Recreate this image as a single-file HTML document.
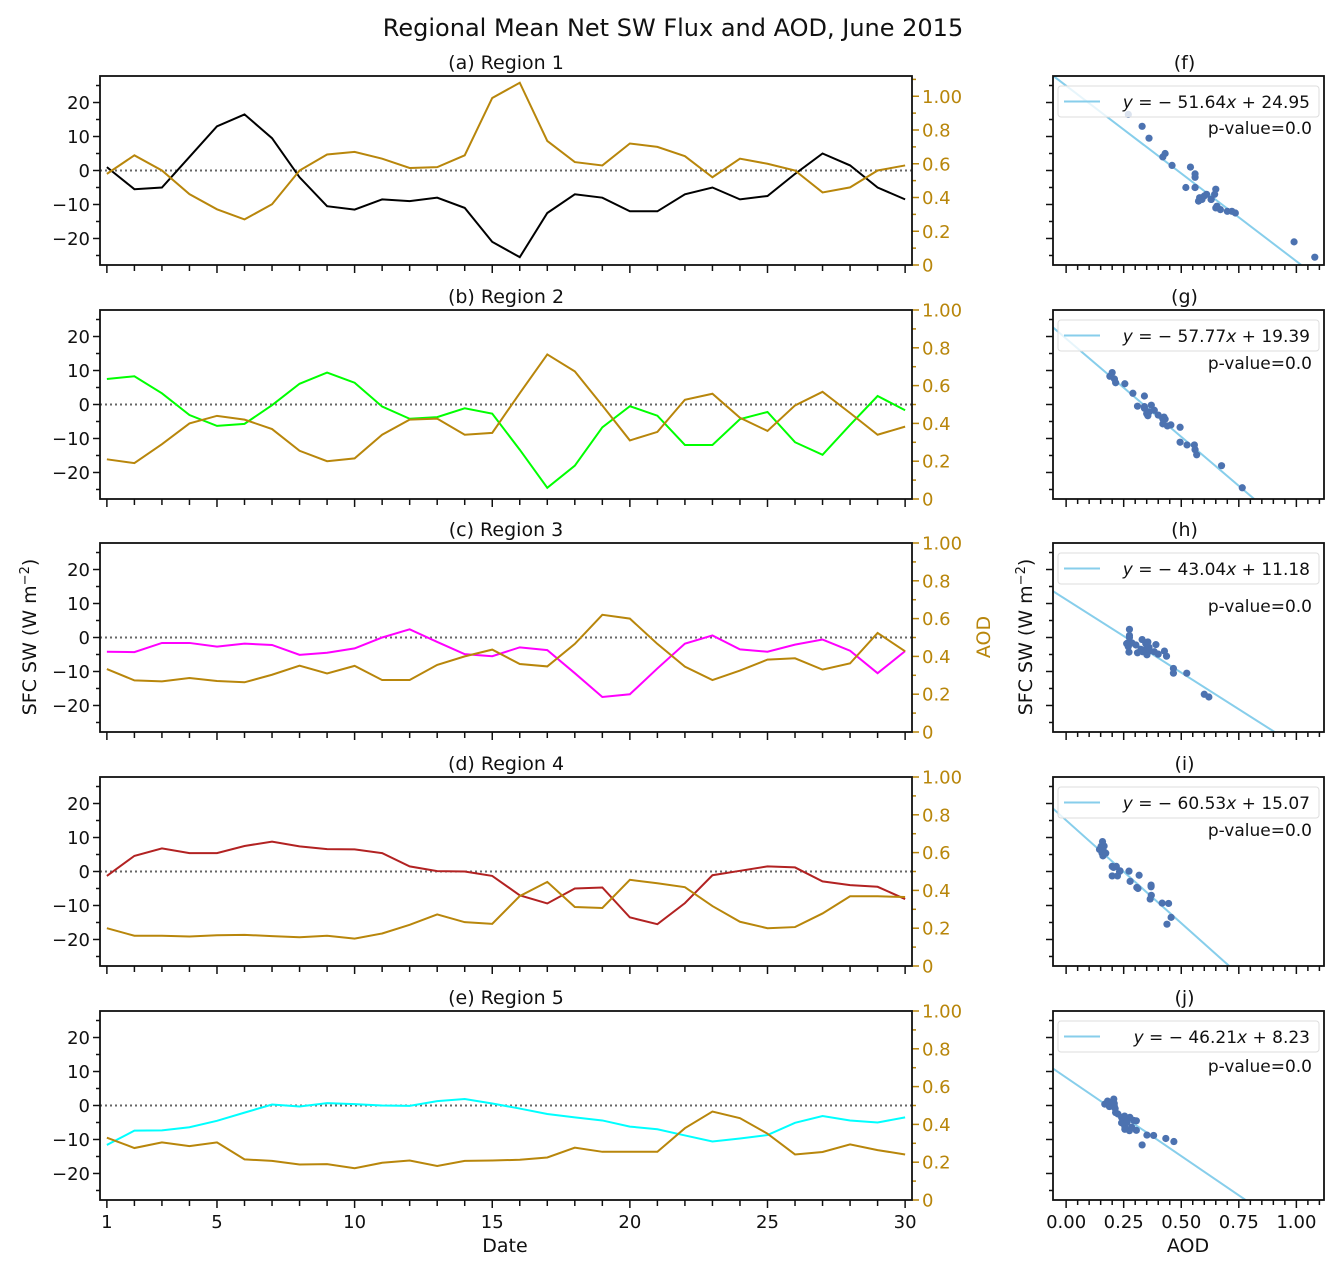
<!DOCTYPE html>
<html><head><meta charset="utf-8"><style>
body{margin:0;background:#fff;}
svg{display:block;font-family:"DejaVu Sans","Liberation Sans",sans-serif;}
</style></head><body>
<svg id="fig" width="1343" height="1275" viewBox="0 0 1343 1275" xmlns="http://www.w3.org/2000/svg">
<rect width="1343" height="1275" fill="#fff"/>
<text x="673" y="36" font-size="24" text-anchor="middle" fill="#111">Regional Mean Net SW Flux and AOD, June 2015</text>
<text x="505" y="1252" font-size="19" text-anchor="middle" fill="#111">Date</text>
<text x="1188" y="1252" font-size="19" text-anchor="middle" fill="#111">AOD</text>
<text transform="translate(36,637) rotate(-90)" font-size="19" text-anchor="middle" fill="#111">SFC SW (W m<tspan dy="-7" font-size="13">−2</tspan><tspan dy="7">)</tspan></text>
<text transform="translate(990,637) rotate(-90)" font-size="19" text-anchor="middle" fill="#b8860b">AOD</text>
<text transform="translate(1032,637) rotate(-90)" font-size="19" text-anchor="middle" fill="#111">SFC SW (W m<tspan dy="-7" font-size="13">−2</tspan><tspan dy="7">)</tspan></text>
<g id="plots"></g>
</svg>
<script>
const days = [1,2,3,4,5,6,7,8,9,10,11,12,13,14,15,16,17,18,19,20,21,22,23,24,25,26,27,28,29,30];
const sw1 = [1,-5.5,-5,4,13,16.5,9.5,-2,-10.5,-11.5,-8.5,-9,-8,-11,-21,-25.5,-12.5,-7,-8,-12,-12,-7,-5,-8.5,-7.5,-1,5,1.5,-5,-8.5];
const aod1 = [0.54,0.65,0.56,0.42,0.33,0.27,0.36,0.56,0.655,0.67,0.63,0.575,0.58,0.65,0.99,1.08,0.735,0.61,0.59,0.72,0.70,0.645,0.52,0.63,0.60,0.56,0.43,0.46,0.56,0.59];
const sw2 = [7.5,8.3,3.3,-3.1,-6.3,-5.7,-0.2,6.1,9.4,6.4,-0.6,-4.2,-3.7,-1.1,-2.7,-13.3,-24.5,-18,-6.7,-0.5,-3.3,-11.9,-11.9,-4.3,-2.2,-11.1,-14.8,-6,2.5,-1.7];
const aod2 = [0.21,0.19,0.29,0.40,0.44,0.42,0.37,0.255,0.20,0.215,0.34,0.42,0.425,0.34,0.35,0.56,0.765,0.675,0.495,0.31,0.355,0.525,0.557,0.43,0.36,0.495,0.567,0.455,0.34,0.383];
const sw3 = [-4.2,-4.3,-1.6,-1.6,-2.7,-1.8,-2.2,-5.1,-4.5,-3.2,0,2.4,-1.3,-4.9,-5.5,-2.9,-3.7,-10.5,-17.5,-16.7,-9.1,-1.8,0.6,-3.5,-4.2,-2.1,-0.6,-3.9,-10.5,-4];
const aod3 = [0.333,0.273,0.268,0.286,0.27,0.263,0.303,0.351,0.31,0.35,0.275,0.275,0.355,0.40,0.436,0.36,0.347,0.466,0.62,0.60,0.466,0.346,0.275,0.325,0.383,0.39,0.33,0.363,0.524,0.427];
const sw4 = [-1.3,4.6,6.8,5.4,5.4,7.5,8.8,7.4,6.6,6.5,5.4,1.5,0.1,0,-1.3,-7,-9.4,-5,-4.7,-13.5,-15.5,-9.3,-1.1,0.2,1.5,1.2,-2.9,-4,-4.5,-8.1];
const aod4 = [0.2,0.16,0.16,0.156,0.163,0.165,0.158,0.152,0.16,0.145,0.172,0.218,0.273,0.232,0.223,0.37,0.445,0.312,0.307,0.456,0.438,0.417,0.317,0.234,0.2,0.206,0.278,0.369,0.369,0.365];
const sw5 = [-11.6,-7.4,-7.3,-6.4,-4.5,-2.1,0.3,-0.3,0.7,0.4,0,-0.1,1.3,1.9,0.6,-0.9,-2.5,-3.5,-4.4,-6.2,-7,-8.8,-10.6,-9.7,-8.7,-5.1,-3.1,-4.4,-5,-3.5];
const aod5 = [0.33,0.275,0.305,0.285,0.305,0.215,0.207,0.188,0.19,0.168,0.197,0.209,0.18,0.207,0.209,0.213,0.225,0.277,0.255,0.255,0.255,0.38,0.468,0.433,0.351,0.241,0.254,0.294,0.264,0.241];
const slopes = [-51.64,-57.77,-43.04,-60.53,-46.21];
const intercepts = [24.95,19.39,11.18,15.07,8.23];
const pvalues = ["0.0","0.0","0.0","0.0","0.0"];
const titles = ["(a) Region 1","(b) Region 2","(c) Region 3","(d) Region 4","(e) Region 5"];
const scatterTitles = ["(f)","(g)","(h)","(i)","(j)"];
const dayTickLabels = [1,5,10,15,20,25,30];
const swTickLabels = [20,10,0,-10,-20];
const aodTickLabels1 = ["0","0.2","0.4","0.6","0.8","1.00"];
const aodTickLabels = ["0","0.2","0.4","0.6","0.8","1.00"];
const scatterXTickLabels = ["0.00","0.25","0.50","0.75","1.00"];

const SW = [sw1,sw2,sw3,sw4,sw5];
const AOD = [aod1,aod2,aod3,aod4,aod5];
const colors = ["#000000","#00ff00","#ff00ff","#b22222","#00ffff"];
const GOLD = "#b8860b";
const tops = [76,310,543,777,1011];
const H = 189;
const L = 100, R = 912, SL = 1053, SR = 1324;
const NS = "http://www.w3.org/2000/svg";
const root = document.getElementById('plots');
function mk(tag, attrs, parent){const e=document.createElementNS(NS,tag);for(const k in attrs)e.setAttribute(k,attrs[k]);(parent||root).appendChild(e);return e;}
const xDay = d => L + (d-0.75)/(29.5)*(R-L);
const xAod = a => SL + (a+0.057)/1.177*(SR-SL);

for(let p=0;p<5;p++){
  const top=tops[p], bot=top+H;
  const ySW = v => top + (27.8 - v)/55.6*H;
  const aMax = p===0?1.12:1.0;
  const yA = a => bot - a/aMax*H;
  const g = mk('g',{});
  
  
  const t=mk('text',{x:(L+R)/2,y:top-7,'font-size':19,'text-anchor':'middle',fill:'#111'},g);
  t.textContent=titles[p];
  
  
  const z=mk('line',{x1:L,x2:R,y1:ySW(0),y2:ySW(0),stroke:'#666','stroke-width':2,'stroke-dasharray':'2,3'},g);
  
  
  for(let v=-25;v<=25;v+=5){
    const major=v%10===0;
    mk('line',{x1:L,x2:L-(major?7:4),y1:ySW(v),y2:ySW(v),stroke:'#111','stroke-width':1.5},g);
  }
  swTickLabels.forEach(v=>{
    const tl=mk('text',{x:L-10,y:ySW(v)+6.5,'font-size':18,'text-anchor':'end',fill:'#111'},g);
    tl.textContent=v<0?'−'+(-v):String(v);
    
    
  });
  for(let i=0;i*0.1<=aMax+1e-9;i++){
    const a=i*0.1, major=i%2===0;
    mk('line',{x1:R,x2:R+(major?7:4),y1:yA(a),y2:yA(a),stroke:GOLD,'stroke-width':1.5},g);
  }
  const labs = p===0?aodTickLabels1:aodTickLabels;
  labs.forEach((s,i)=>{
    const tl=mk('text',{x:R+10,y:yA(i*0.2)+6.5,'font-size':18,fill:GOLD},g);
    tl.textContent=s;
    
    
  });
  days.forEach(d=>{
    const major = dayTickLabels.includes(d);
    mk('line',{x1:xDay(d),x2:xDay(d),y1:bot,y2:bot+(major?8:6),stroke:'#111','stroke-width':1.5},g);
  });
  if(p===4){
    dayTickLabels.forEach(d=>{
      const tl=mk('text',{x:xDay(d),y:bot+28,'font-size':18,'text-anchor':'middle',fill:'#111'},g);
      tl.textContent=d;
      
      
    });
  }
  const swl=mk('polyline',{points:days.map((d,i)=>xDay(d)+','+ySW(SW[p][i])).join(' '),fill:'none',stroke:colors[p],'stroke-width':2},g);
  
  
  const al=mk('polyline',{points:days.map((d,i)=>xDay(d)+','+yA(AOD[p][i])).join(' '),fill:'none',stroke:GOLD,'stroke-width':2},g);
  
  
  const fr=mk('rect',{x:L,y:top,width:R-L,height:H,fill:'none',stroke:'#111','stroke-width':1.8},g);
  
  

  const s = mk('g',{});
  
  
  const st=mk('text',{x:(SL+SR)/2-4,y:top-7,'font-size':19,'text-anchor':'middle',fill:'#111'},s);
  st.textContent=scatterTitles[p];
  
  
  const cp = mk('clipPath',{id:'c'+p},s);
  mk('rect',{x:SL,y:top,width:SR-SL,height:H},cp);
  for(let v=-25;v<=25;v+=5){
    const major=v%10===0;
    mk('line',{x1:SL,x2:SL-(major?7:4),y1:ySW(v),y2:ySW(v),stroke:'#111','stroke-width':1.5},s);
  }
  for(let i=0;i<=22;i++){
    const a=i*0.05, major=i%5===0;
    mk('line',{x1:xAod(a),x2:xAod(a),y1:bot,y2:bot+(major?8:5),stroke:'#111','stroke-width':1.5},s);
  }
  if(p===4){
    scatterXTickLabels.forEach((lab,i)=>{
      const tl=mk('text',{x:xAod(i*0.25),y:bot+28,'font-size':18,'text-anchor':'middle',fill:'#111'},s);
      tl.textContent=lab;
      
      
    });
  }
  const fit=mk('line',{x1:xAod(-0.1),x2:xAod(1.2),y1:ySW(intercepts[p]+slopes[p]*-0.1),y2:ySW(intercepts[p]+slopes[p]*1.2),stroke:'#87ceeb','stroke-width':2,'clip-path':'url(#c'+p+')'},s);
  
  
  AOD[p].forEach((a,i)=>{
    const c=mk('circle',{cx:xAod(a),cy:ySW(SW[p][i]),r:3.6,fill:'#4c72b0','clip-path':'url(#c'+p+')'},s);
    
    
  });
  const lg=mk('g',{},s);
  
  
  mk('rect',{x:SL+5,y:top+10,width:SR-SL-10,height:31,rx:3,fill:'#fff','fill-opacity':0.8,stroke:'#ddd','stroke-width':1},lg);
  mk('line',{x1:SL+11,x2:SL+47,y1:top+25.5,y2:top+25.5,stroke:'#87ceeb','stroke-width':2},lg);
  const m=slopes[p], b=intercepts[p];
  const lt=mk('text',{x:SR-14,y:top+32,'font-size':17,'text-anchor':'end',fill:'#111'},lg);
  lt.innerHTML='<tspan font-style="italic">y</tspan> = '+(m<0?'− ':'')+Math.abs(m).toFixed(2)+'<tspan font-style="italic">x</tspan> + '+b.toFixed(2);
  
  
  const pv=mk('text',{x:SR-12,y:top+[58,59,69,59,61][p],'font-size':17,'text-anchor':'end',fill:'#111'},s);
  pv.textContent='p-value='+pvalues[p];
  
  
  const sf=mk('rect',{x:SL,y:top,width:SR-SL,height:H,fill:'none',stroke:'#111','stroke-width':1.8},s);
  
  
}
</script>
</body></html>
